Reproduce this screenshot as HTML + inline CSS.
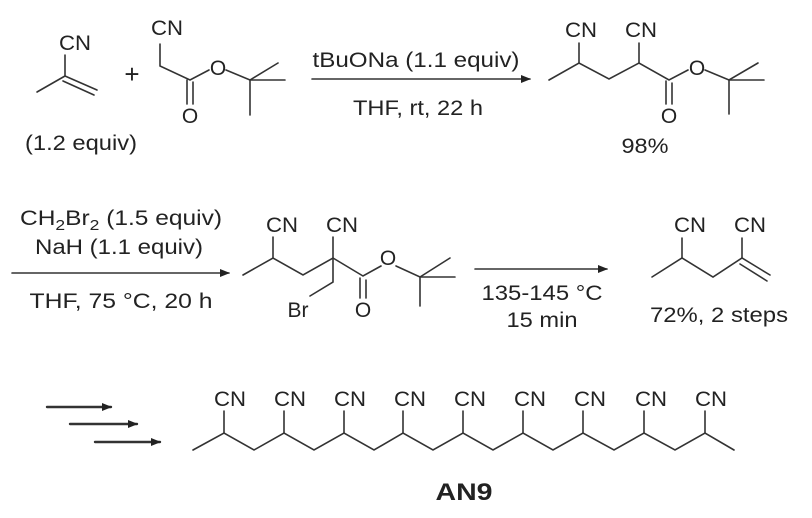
<!DOCTYPE html>
<html><head><meta charset="utf-8"><style>
html,body{margin:0;padding:0;background:#fff;}
svg{display:block;}
text{font-family:"Liberation Sans",Arial,sans-serif;fill:#222;}
</style></head><body>
<svg width="812" height="518" viewBox="0 0 812 518" xmlns="http://www.w3.org/2000/svg">
<defs><marker id="ah" markerWidth="10" markerHeight="8" refX="9" refY="4" orient="auto" markerUnits="userSpaceOnUse"><path d="M0,0 L10,4 L0,8 Z" fill="#222"/></marker></defs>
<g stroke="#333" stroke-width="1.6" fill="none" stroke-linecap="round">
<path d="M37,92 L65,76 L65,55"/><path d="M65,76 L97,90"/><path d="M63,81 L94,95"/>
<path d="M160,44 L160,66 L190,80 L209,70"/><path d="M226,70 L250,80 L278,63"/><path d="M250,80 L285,80"/><path d="M250,80 L250,115"/>
<path d="M187,80 L187,104"/><path d="M193,82 L193,104"/>
<path d="M312,79 L530,79" marker-end="url(#ah)"/>
<path d="M549,80 L579,63 L609,79 L639,63 L669,80 L688,70"/><path d="M579,63 L579,43"/><path d="M639,63 L639,43"/>
<path d="M705,70 L729,80 L758,63"/><path d="M729,80 L764,80"/><path d="M729,80 L729,114"/>
<path d="M666,81 L666,104"/><path d="M672,83 L672,104"/>
<path d="M12,273 L229,273" marker-end="url(#ah)"/>
<path d="M243,275 L273,258 L303,275 L333,258 L363,276 L381,266"/><path d="M273,258 L273,237"/><path d="M333,237 L333,282 L310,296"/>
<path d="M396,266 L420,277 L450,258"/><path d="M420,277 L455,277"/><path d="M420,277 L420,306"/>
<path d="M360,278 L360,298"/><path d="M366,280 L366,298"/>
<path d="M475,269 L607,269" marker-end="url(#ah)"/>
<path d="M652,277 L682,258 L713,277 L742,258 L770,275"/><path d="M740,264 L767,281"/><path d="M682,258 L682,238"/><path d="M742,258 L742,238"/>
<g stroke-width="2.4"><path d="M47,407 L111,407" marker-end="url(#ah)"/><path d="M70,424 L137,424" marker-end="url(#ah)"/><path d="M95,442 L160,442" marker-end="url(#ah)"/></g>
<path d="M193,450 L224,433 L254,450 L284,433 L314,450 L344,433 L374,450 L403,433 L433,450 L463,433 L493,450 L523,433 L553,450 L583,433 L614,450 L644,433 L675,450 L705,433 L734,450"/>
<path d="M224,433V411M284,433V411M344,433V411M403,433V411M463,433V411M523,433V411M583,433V411M644,433V411M705,433V411"/>
</g>
<g font-size="21" text-anchor="middle" lengthAdjust="spacingAndGlyphs">
<text x="75" y="50" textLength="32" lengthAdjust="spacingAndGlyphs">CN</text>
<text x="132" y="83" font-size="26">+</text>
<text x="167" y="35" textLength="32" lengthAdjust="spacingAndGlyphs">CN</text>
<text x="218" y="75">O</text>
<text x="190" y="123">O</text>
<text x="81" y="150" textLength="112" lengthAdjust="spacingAndGlyphs">(1.2 equiv)</text>
<text x="416" y="67" textLength="207" lengthAdjust="spacingAndGlyphs">tBuONa (1.1 equiv)</text>
<text x="418" y="115" textLength="130" lengthAdjust="spacingAndGlyphs">THF, rt, 22 h</text>
<text x="581" y="37" textLength="32" lengthAdjust="spacingAndGlyphs">CN</text>
<text x="641" y="37" textLength="32" lengthAdjust="spacingAndGlyphs">CN</text>
<text x="697" y="75">O</text>
<text x="669" y="123">O</text>
<text x="645" y="153" textLength="47" lengthAdjust="spacingAndGlyphs">98%</text>
<text x="121" y="225" textLength="202" lengthAdjust="spacingAndGlyphs">CH<tspan font-size="15" dy="5">2</tspan><tspan dy="-5">Br</tspan><tspan font-size="15" dy="5">2</tspan><tspan dy="-5"> (1.5 equiv)</tspan></text>
<text x="119" y="254" textLength="168" lengthAdjust="spacingAndGlyphs">NaH (1.1 equiv)</text>
<text x="121" y="308" textLength="183" lengthAdjust="spacingAndGlyphs">THF, 75 °C,  20 h</text>
<text x="282" y="232" textLength="32" lengthAdjust="spacingAndGlyphs">CN</text>
<text x="342" y="232" textLength="32" lengthAdjust="spacingAndGlyphs">CN</text>
<text x="388" y="265">O</text>
<text x="363" y="317">O</text>
<text x="298" y="317">Br</text>
<text x="542" y="300" textLength="121" lengthAdjust="spacingAndGlyphs">135-145 °C</text>
<text x="542" y="327" textLength="71" lengthAdjust="spacingAndGlyphs">15 min</text>
<text x="690" y="232" textLength="32" lengthAdjust="spacingAndGlyphs">CN</text>
<text x="750" y="232" textLength="32" lengthAdjust="spacingAndGlyphs">CN</text>
<text x="719" y="322" textLength="138" lengthAdjust="spacingAndGlyphs">72%, 2 steps</text>
</g>
<g font-size="21" text-anchor="middle">
<text x="230" y="406" textLength="32" lengthAdjust="spacingAndGlyphs">CN</text>
<text x="290" y="406" textLength="32" lengthAdjust="spacingAndGlyphs">CN</text>
<text x="350" y="406" textLength="32" lengthAdjust="spacingAndGlyphs">CN</text>
<text x="410" y="406" textLength="32" lengthAdjust="spacingAndGlyphs">CN</text>
<text x="470" y="406" textLength="32" lengthAdjust="spacingAndGlyphs">CN</text>
<text x="530" y="406" textLength="32" lengthAdjust="spacingAndGlyphs">CN</text>
<text x="590" y="406" textLength="32" lengthAdjust="spacingAndGlyphs">CN</text>
<text x="651" y="406" textLength="32" lengthAdjust="spacingAndGlyphs">CN</text>
<text x="711" y="406" textLength="32" lengthAdjust="spacingAndGlyphs">CN</text>
</g>
<text x="464" y="500" font-size="24" font-weight="bold" text-anchor="middle" textLength="57" lengthAdjust="spacingAndGlyphs">AN9</text>
</svg>
</body></html>
